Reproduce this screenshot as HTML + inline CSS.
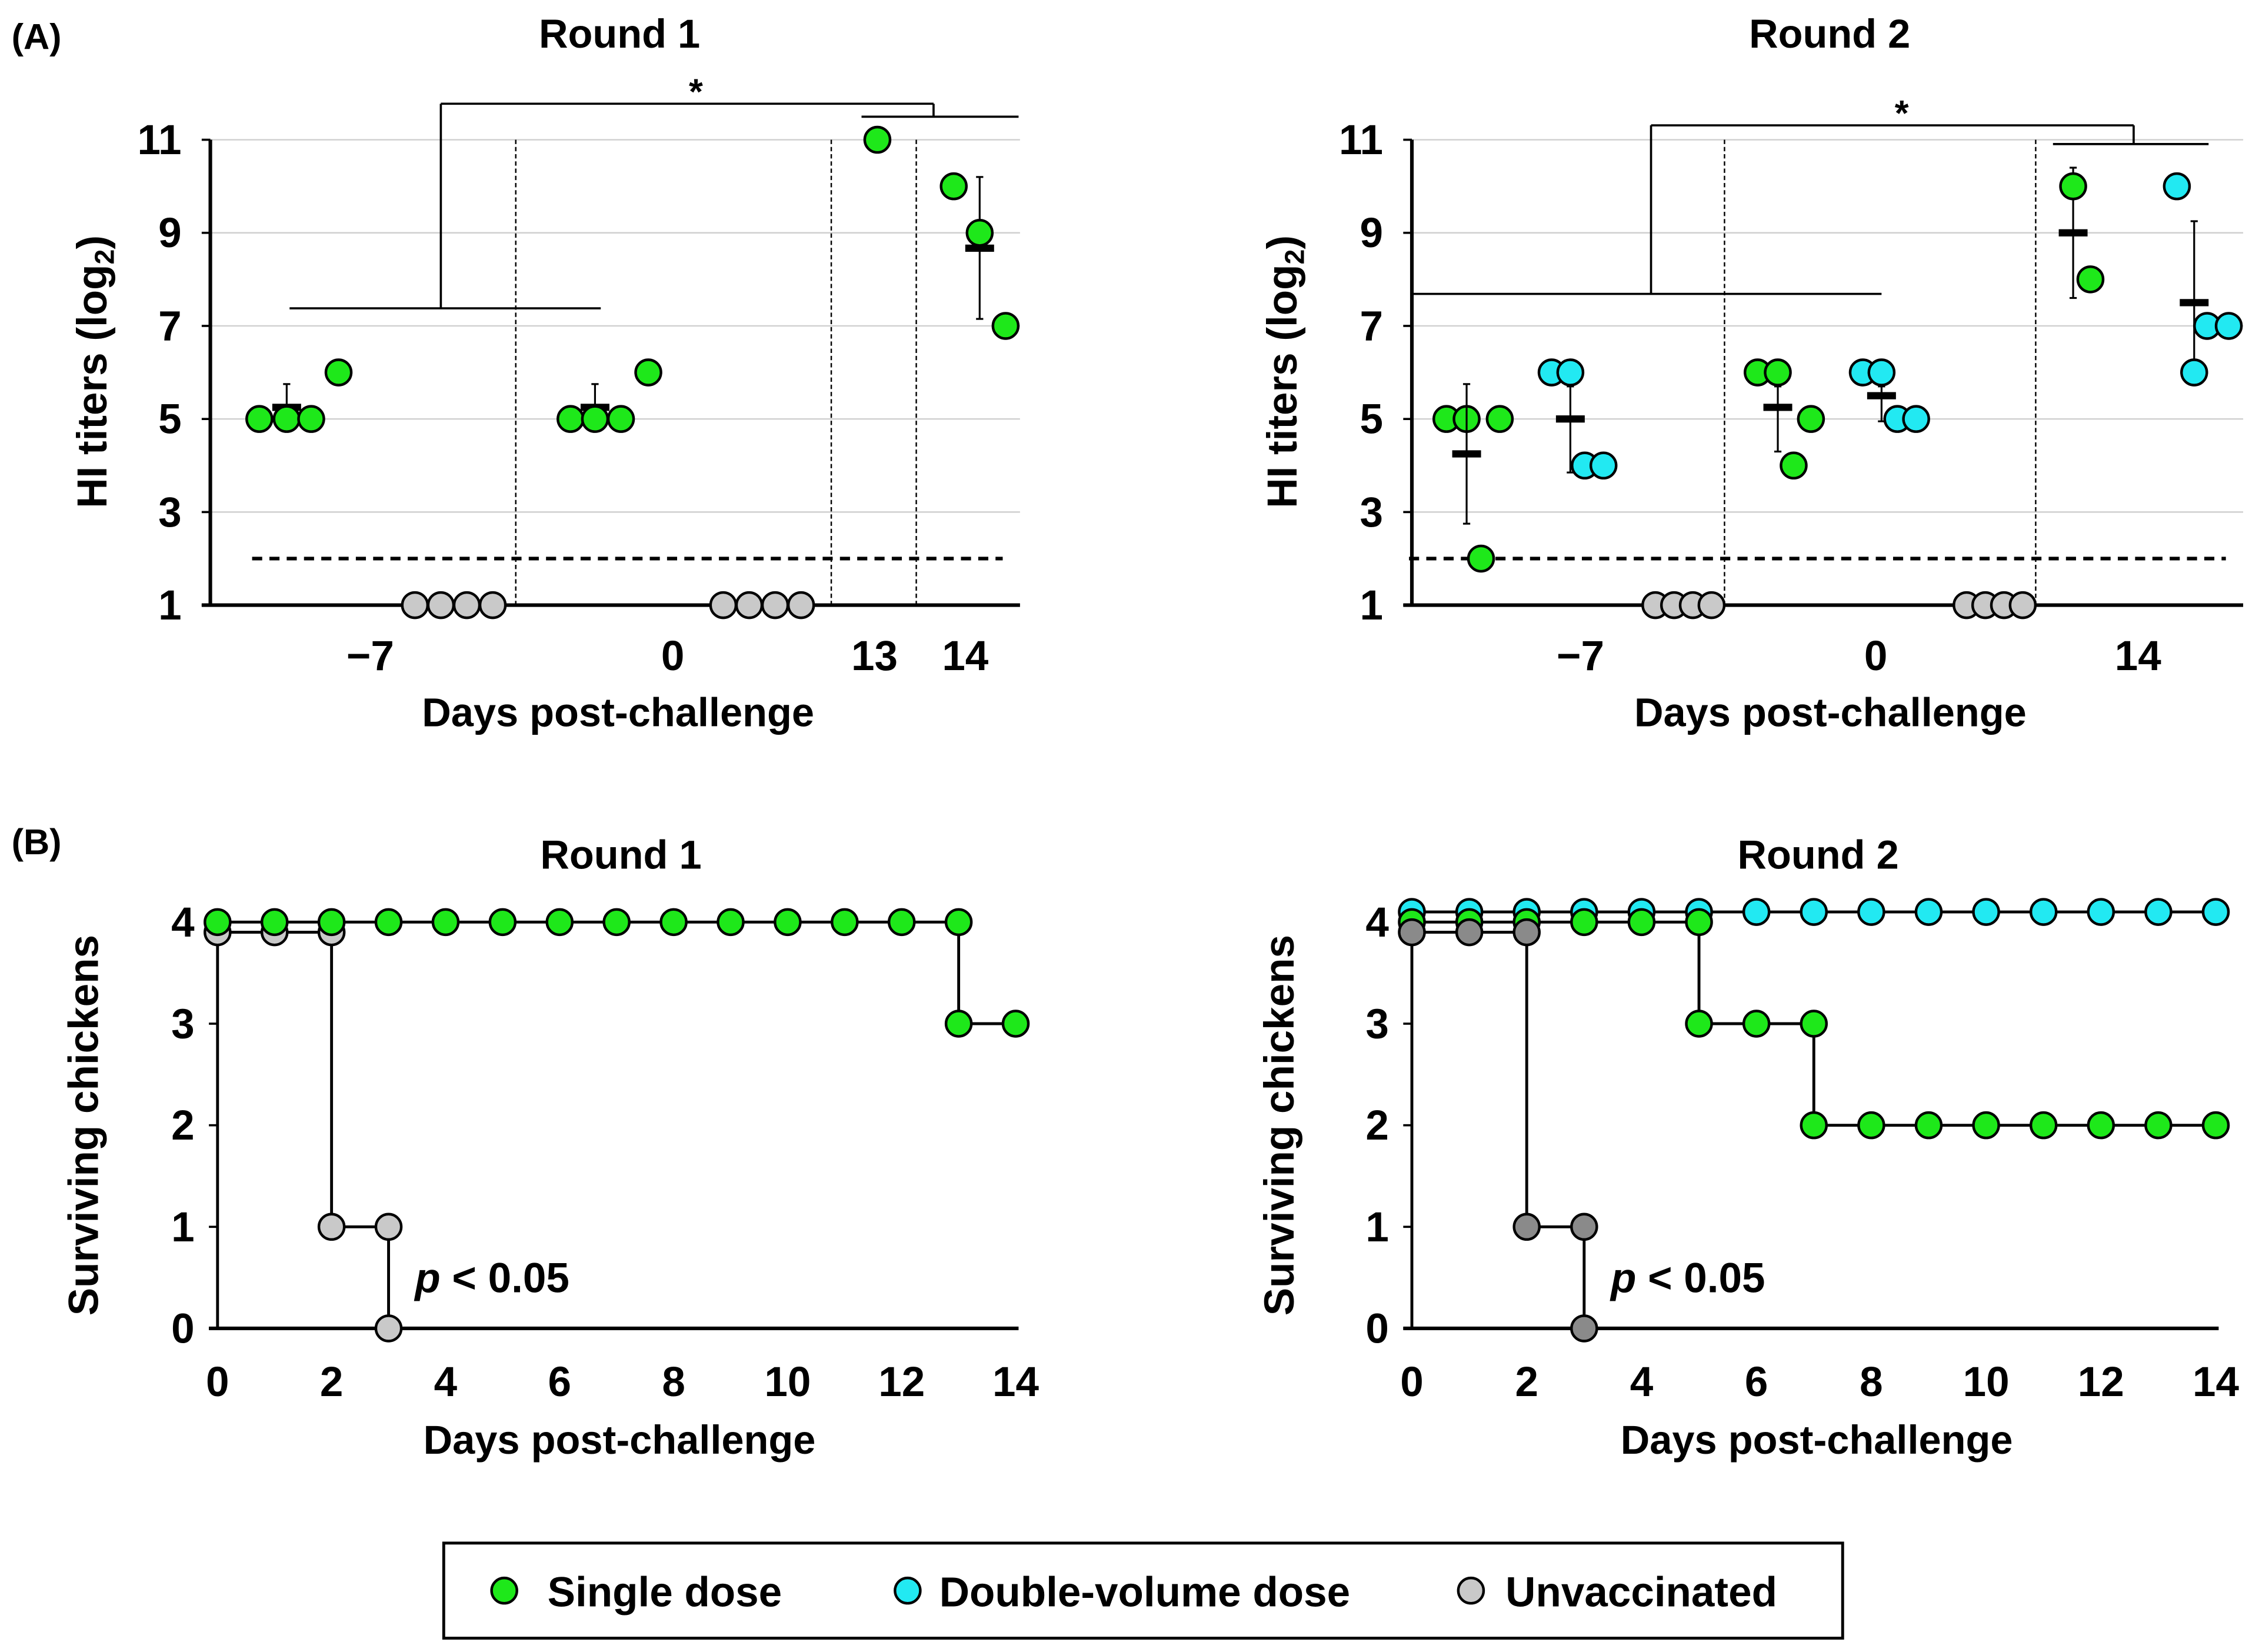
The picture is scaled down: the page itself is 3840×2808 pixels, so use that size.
<!DOCTYPE html>
<html><head><meta charset="utf-8">
<style>
html,body{margin:0;padding:0;background:#fff;}
svg{display:block;font-family:"Liberation Sans",Arial,sans-serif;font-weight:bold;}
</style></head>
<body>
<svg id="fig" width="3840" height="2808" viewBox="0 0 1568 1146.6" xmlns="http://www.w3.org/2000/svg">
<rect width="1568" height="1146.6" fill="#fff"/>
</svg>
<script>
// ---------- DATA ----------
const a1Ticks = [1, 3, 5, 7, 9, 11];
const a1Cats = ["−7", "0", "13", "14"];
const a1Single_m7 = [5, 5, 5, 6];
const a1Unvac_m7 = [1, 1, 1, 1];
const a1Single_0 = [5, 5, 5, 6];
const a1Unvac_0 = [1, 1, 1, 1];
const a1Single_13 = [11];
const a1Single_14 = [10, 9, 7];
const a1Means = [5.25, 5.25, 11, 8.67];
const a1ErrLo = [5.25, 5.25, 11, 7.15];
const a1ErrHi = [5.75, 5.75, 11, 10.2];
const hiLimit = 2;
const a2Cats = ["−7", "0", "14"];
const a2Single_m7 = [5, 5, 2, 5];
const a2Double_m7 = [6, 6, 4, 4];
const a2Unvac_m7 = [1, 1, 1, 1];
const a2Single_0 = [6, 6, 4, 5];
const a2Double_0 = [6, 6, 5, 5];
const a2Unvac_0 = [1, 1, 1, 1];
const a2Single_14 = [10, 8];
const a2Double_14 = [10, 6, 7, 7];
const a2SingleMeans = [4.25, 5.25, 9];
const a2SingleLo = [2.75, 4.3, 7.6];
const a2SingleHi = [5.75, 5.7, 10.4];
const a2DoubleMeans = [5, 5.5, 7.5];
const a2DoubleLo = [3.85, 4.95, 6];
const a2DoubleHi = [5.7, 5.7, 9.25];
const bDays = [0,1,2,3,4,5,6,7,8,9,10,11,12,13,14];
const bXTicks = [0,2,4,6,8,10,12,14];
const bYTicks = [0,1,2,3,4];
const b1SingleDays = [0,1,2,3,4,5,6,7,8,9,10,11,12,13,13,14];
const b1Single = [4,4,4,4,4,4,4,4,4,4,4,4,4,4,3,3];
const b1UnvacDays = [0,1,2,2,3,3];
const b1Unvac = [3.9,3.9,3.9,1,1,0];
const b2Double = [4.1,4.1,4.1,4.1,4.1,4.1,4.1,4.1,4.1,4.1,4.1,4.1,4.1,4.1,4.1];
const b2SingleDays = [0,1,2,3,4,5,5,6,7,7,8,9,10,11,12,13,14];
const b2Single = [4,4,4,4,4,4,3,3,3,2,2,2,2,2,2,2,2];
const b2UnvacDays = [0,1,2,2,3,3];
const b2Unvac = [3.9,3.9,3.9,1,1,0];

// ---------- HELPERS ----------
const NS = "http://www.w3.org/2000/svg";
const svg = document.getElementById("fig");
const GREEN = "#1ee81a", CYAN = "#22e9f2", GRAY = "#c9c9c9", DGRAY = "#8a8a8a";
function mk(tag, attrs, parent) {
  const e = document.createElementNS(NS, tag);
  for (const k in attrs) e.setAttribute(k, attrs[k]);
  (parent || svg).appendChild(e);
  return e;
}
function line(x1,y1,x2,y2,w,dash,col) {
  const l = mk("line",{x1,y1,x2,y2,stroke:col||"#000","stroke-width":w||1.5});
  if (dash) l.setAttribute("stroke-dasharray", dash);
  return l;
}
function text(str,x,y,size,anchor,extra) {
  const t = mk("text",{x,y,"font-size":size,"text-anchor":anchor||"middle"});
  if (extra) for (const k in extra) t.setAttribute(k, extra[k]);
  t.textContent = str;
  return t;
}
function dot(x,y,fill) {
  return mk("circle",{cx:x,cy:y,r:8.8,fill:fill,stroke:"#000","stroke-width":1.8});
}
const TICK = 29, TITLE = 28, AX = 28;

// ---------- PANEL A ----------
function hiY(v){ return 420 - (v-1)*32.3; }
function panelA(x0, x1, title, titleX, labelX, vlines, dashFrom) {
  text(title, titleX, 33, TITLE, "middle");
  a1Ticks.forEach(v=>{
    if (v>1) line(x0, hiY(v), x1, hiY(v), 1, null, "#cfcfcf");
    const t = text(String(v), x0-20, hiY(v)+10, TICK, "end");
    
    
    line(x0-6, hiY(v), x0, hiY(v), 1.5);
  });
  vlines.forEach(x=>line(x, hiY(11), x, hiY(1), 1, "3,2"));
  line(dashFrom, hiY(hiLimit), x1-12, hiY(hiLimit), 2.5, "7,5");
  line(x0, hiY(11), x0, hiY(1), 2.5);
  line(x0-6, hiY(1), x1, hiY(1), 2.5);
  const yl = text("HI titers (log", 0, 0, 29, "middle",{transform:`translate(${labelX},258) rotate(-90)`});
  const sub = mk("tspan",{"font-size":19,dy:5},yl); sub.textContent="2";
  const cl = mk("tspan",{dy:-5},yl); cl.textContent=")";
  
  
  const xt = text("Days post-challenge", (x0+x1)/2+2, 504, AX, "middle");
  
  
}
function pts(xs, vals, col) {
  vals.forEach((v,i)=>{
    const c = dot(xs[i], hiY(v), col);
    
    
  });
}
function meanBar(x, m, lo, hi) {
  if (hi !== lo) { line(x, hiY(hi), x, hiY(lo), 1.3); line(x-2.5,hiY(hi),x+2.5,hiY(hi),1.3); line(x-2.5,hiY(lo),x+2.5,hiY(lo),1.3); }
  const r = mk("rect",{x:x-10,y:hiY(m)-2.5,width:20,height:5,fill:"#000"});
  
  
}
text("(A)", 8, 34, 25, "start");
panelA(146, 708, "Round 1", 430, 74, [358,577,636], 175);
[257,467,607,670].forEach((x,i)=>{
  const t = text(a1Cats[i], x, 465, TICK, "middle");
  
  
});
line(201,214,417,214,1.5); line(306,214,306,72,1.5); line(306,72,648,72,1.5); line(648,72,648,81,1.5); line(598,81,707,81,1.5);
text("*", 483, 72, 25, "middle");
meanBar(199, a1Means[0], a1ErrLo[0], a1ErrHi[0]);
meanBar(413, a1Means[1], a1ErrLo[1], a1ErrHi[1]);
meanBar(680, a1Means[3], a1ErrLo[3], a1ErrHi[3]);
pts([180,199,216,235], a1Single_m7, GREEN);
pts([288,306,324,342], a1Unvac_m7, GRAY);
pts([396,413,431,450], a1Single_0, GREEN);
pts([502,520,538,556], a1Unvac_0, GRAY);
pts([609], a1Single_13, GREEN);
pts([662,680,698], a1Single_14, GREEN);

panelA(980, 1557, "Round 2", 1270, 900, [1197,1413], 978);
[1097,1302,1484].forEach((x,i)=>{
  const t = text(a2Cats[i], x, 465, TICK, "middle");
  
  
});
line(980,204,1306,204,1.5); line(1146,204,1146,87,1.5); line(1146,87,1481,87,1.5); line(1481,87,1481,100,1.5); line(1425,100,1533,100,1.5);
text("*", 1320, 87, 25, "middle");
pts([1004,1018,1028,1041], a2Single_m7, GREEN);
meanBar(1018, a2SingleMeans[0], a2SingleLo[0], a2SingleHi[0]);
pts([1077,1090,1100,1113], a2Double_m7, CYAN);
meanBar(1090, a2DoubleMeans[0], a2DoubleLo[0], a2DoubleHi[0]);
pts([1149,1162,1175,1188], a2Unvac_m7, GRAY);
pts([1220,1234,1245,1257], a2Single_0, GREEN);
meanBar(1234, a2SingleMeans[1], a2SingleLo[1], a2SingleHi[1]);
pts([1293,1306,1317,1330], a2Double_0, CYAN);
meanBar(1306, a2DoubleMeans[1], a2DoubleLo[1], a2DoubleHi[1]);
pts([1365,1378,1391,1404], a2Unvac_0, GRAY);
meanBar(1439, a2SingleMeans[2], a2SingleLo[2], a2SingleHi[2]);
pts([1439,1451], a2Single_14, GREEN);
meanBar(1523, a2DoubleMeans[2], a2DoubleLo[2], a2DoubleHi[2]);
pts([1511,1523,1532,1547], a2Double_14, CYAN);

// ---------- PANEL B ----------
function bY(v){ return 922 - v*70.5; }
function panelB(x0, x14, title, labelX) {
  const bx = d => x0 + d*(x14-x0)/14;
  text(title, (x0+x14)/2+3, 603, TITLE, "middle");
  line(x0, bY(4.1), x0, bY(0), 2);
  line(x0-6, bY(0), x14+2, bY(0), 2.5);
  bYTicks.forEach(v=>{
    line(x0-6, bY(v), x0, bY(v), 1.5);
    const t = text(String(v), x0-16, bY(v)+10, TICK, "end");
    
    
  });
  bXTicks.forEach(d=>{
    const t = text(String(d), bx(d), 969, TICK, "middle");
    
    
  });
  const xt = text("Days post-challenge", (x0+x14)/2+2, 1009, AX, "middle");
  
  
  const yl = text("Surviving chickens", 0, 0, 29, "middle",{transform:`translate(${labelX},781) rotate(-90)`});
  
  
  return bx;
}
function stepSeries(bx, days, vals) {
  let d = `M${bx(days[0])},${bY(vals[0])}`;
  for (let i=1;i<days.length;i++) d += ` H${bx(days[i])} V${bY(vals[i])}`;
  mk("path",{d, fill:"none", stroke:"#000","stroke-width":2});
}
function stepDots(bx, days, vals, col, name) {
  for (let i=0;i<days.length;i++) {
    const c = dot(bx(days[i]), bY(vals[i]), col);
    
    
  }
}
text("(B)", 8, 593, 25, "start");
const bx1 = panelB(151, 705, "Round 1", 68);
stepSeries(bx1, b1SingleDays, b1Single);
stepSeries(bx1, b1UnvacDays, b1Unvac);
stepDots(bx1, b1UnvacDays, b1Unvac, GRAY, "unvaccinated-point");
stepDots(bx1, b1SingleDays, b1Single, GREEN, "single-dose-point");
const p1 = text("", 288, 897, 29, "start");

p1.innerHTML = '<tspan font-style="italic">p</tspan> &lt; 0.05';

const bx2 = panelB(980, 1538, "Round 2", 898);
stepSeries(bx2, bDays, b2Double);
stepSeries(bx2, b2SingleDays, b2Single);
stepSeries(bx2, b2UnvacDays, b2Unvac);
stepDots(bx2, bDays, b2Double, CYAN, "double-dose-point");
stepDots(bx2, b2SingleDays, b2Single, GREEN, "single-dose-point");
stepDots(bx2, b2UnvacDays, b2Unvac, DGRAY, "unvaccinated-point");
const p2 = text("", 1118, 897, 29, "start");

p2.innerHTML = '<tspan font-style="italic">p</tspan> &lt; 0.05';

// ---------- LEGEND ----------
const lg = mk("rect",{x:308,y:1071,width:971,height:66,fill:"#fff",stroke:"#000","stroke-width":2});


[[350,380,"Single dose",GREEN],[630,652,"Double-volume dose",CYAN],[1021,1045,"Unvaccinated",GRAY]].forEach(e=>{
  const c = dot(e[0],1104,e[3]);
  
  
  const t = text(e[2], e[1], 1115, 29, "start");
  
  
});
</script>
</body></html>
